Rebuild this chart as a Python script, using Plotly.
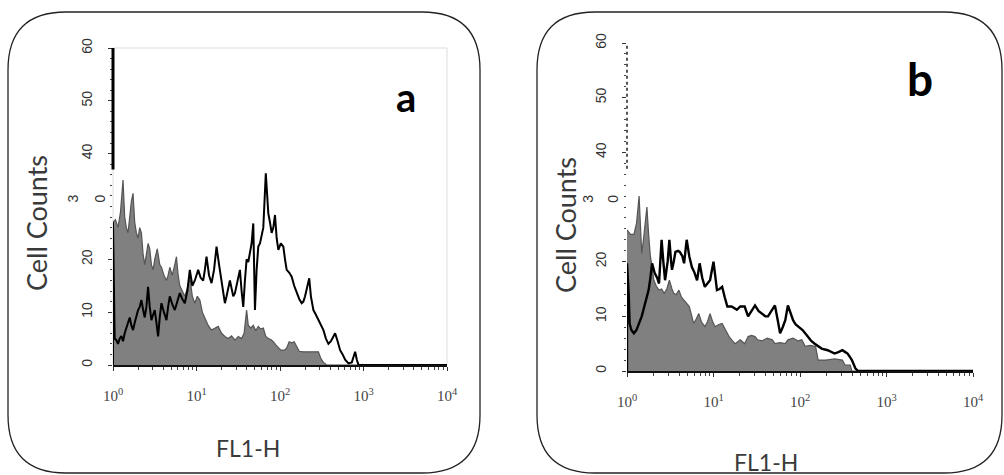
import plotly.graph_objects as go

W, H = 1004, 475

# ---------------- data (x in decades of FL1-H, y = cell counts) ----------------
A_CTRL_DEC = [0.00, 0.03, 0.06, 0.09, 0.12, 0.14, 0.16, 0.18, 0.20, 0.22, 0.24, 0.26, 0.28, 0.30, 0.32,
              0.34, 0.36, 0.38, 0.40, 0.42, 0.44, 0.46, 0.48, 0.50, 0.53, 0.56, 0.58, 0.61, 0.64, 0.66,
              0.68, 0.71, 0.74, 0.76, 0.78, 0.80, 0.83, 0.86, 0.89, 0.92, 0.95, 0.98, 1.01, 1.04, 1.07,
              1.10, 1.14, 1.18, 1.22, 1.26, 1.30, 1.34, 1.38, 1.42, 1.46, 1.50, 1.54, 1.57, 1.60, 1.62,
              1.65, 1.68, 1.71, 1.74, 1.77, 1.80, 1.83, 1.86, 1.89, 1.92, 1.95, 1.98, 2.01, 2.05, 2.08,
              2.11, 2.14, 2.17, 2.20, 2.23, 2.28, 2.34, 2.40, 2.46, 2.49, 2.52, 2.56, 4.00]
A_CTRL_CNT = [27, 27.5, 26, 29, 35, 28, 26, 25, 28, 31, 32.5, 27, 25, 24, 26,
              25, 21, 19, 21, 23, 22, 19, 18, 20, 22, 19, 18.5, 17, 16, 17,
              18.5, 17, 19, 20.5, 17, 15, 14, 13, 14.5, 16.7, 13, 11.7, 13, 12.3, 10,
              9, 7.5, 6.6, 7, 7.3, 6, 5.4, 5, 5.5, 4.7, 5.4, 5, 6, 10.4, 7.5,
              7, 7.5, 6.5, 7.3, 6.8, 7, 5.4, 5, 4.8, 4.4, 3.8, 3.2, 2.8, 2.8, 3.2,
              4.4, 4.2, 4.4, 3.5, 2.6, 2.5, 2.5, 2.5, 2.5, 1.2, 0.5, 0, 0]

A_TRT_DEC = [0.00, 0.00, 0.02, 0.04, 0.06, 0.08, 0.10, 0.12, 0.14, 0.16, 0.18, 0.20, 0.22, 0.24, 0.26,
             0.28, 0.30, 0.32, 0.34, 0.36, 0.38, 0.40, 0.42, 0.44, 0.46, 0.48, 0.50, 0.52, 0.54, 0.56,
             0.58, 0.61, 0.64, 0.66, 0.68, 0.71, 0.74, 0.77, 0.80, 0.83, 0.86, 0.89, 0.92, 0.95, 0.98,
             1.00, 1.02, 1.05, 1.08, 1.10, 1.12, 1.15, 1.18, 1.21, 1.24, 1.27, 1.30, 1.32, 1.34, 1.36,
             1.38, 1.40, 1.42, 1.44, 1.46, 1.48, 1.50, 1.52, 1.54, 1.56, 1.58, 1.60, 1.62, 1.64, 1.66,
             1.68, 1.70, 1.72, 1.74, 1.76, 1.78, 1.80, 1.83, 1.85, 1.86, 1.88, 1.90, 1.92, 1.94, 1.96,
             1.98, 2.01, 2.04, 2.06, 2.08, 2.11, 2.14, 2.17, 2.20, 2.23, 2.26, 2.28, 2.30, 2.33, 2.35,
             2.37, 2.40, 2.43, 2.46, 2.49, 2.52, 2.55, 2.58, 2.61, 2.64, 2.66, 2.69, 2.72, 2.75, 2.78,
             2.82, 2.86, 2.88, 2.90, 2.92, 2.94, 4.00]
A_TRT_CNT = [0, 27, 5, 4.7, 4, 5, 5.5, 4.5, 6, 7, 8, 9, 7.5, 6.6, 8,
             9.5, 10.4, 11, 12.3, 10.5, 9, 11, 14.8, 11, 8.5, 9.5, 10.4, 8, 5.4, 9,
             11.7, 10, 8.5, 11, 13, 11.5, 10.4, 12, 13.6, 12.5, 11.7, 14, 18, 15, 16,
             17, 18, 16.5, 16, 18, 20.5, 17, 15.5, 18, 22.4, 19, 16, 14, 11.7, 13,
             14.8, 16, 14.5, 13, 13.6, 15, 16.5, 18, 14, 11, 16, 20, 19.5, 21, 23,
             26.8, 10.4, 18, 22.4, 23, 24.3, 26, 36.3, 30, 28.7, 27, 25, 26, 28.4, 24,
             21.8, 23, 22.4, 20, 18, 17.5, 16.7, 15, 13.6, 12.5, 11.7, 12, 13, 15, 16.4,
             13, 10.4, 9.5, 8.5, 7.5, 6.6, 5, 4, 4.5, 5.5, 6, 4.5, 2.8, 2, 1,
             0.3, 0.5, 1.5, 2.5, 1, 0, 0]

B_CTRL_DEC = [0.00, 0.04, 0.08, 0.11, 0.14, 0.16, 0.17, 0.19, 0.21, 0.23, 0.25, 0.27, 0.29, 0.31, 0.34,
              0.37, 0.40, 0.43, 0.46, 0.49, 0.52, 0.54, 0.57, 0.60, 0.63, 0.66, 0.69, 0.72, 0.75, 0.77,
              0.80, 0.83, 0.86, 0.90, 0.93, 0.96, 0.99, 1.02, 1.06, 1.10, 1.14, 1.18, 1.22, 1.25, 1.31,
              1.36, 1.40, 1.44, 1.48, 1.51, 1.56, 1.62, 1.68, 1.71, 1.77, 1.83, 1.86, 1.92, 1.98, 2.02,
              2.06, 2.12, 2.18, 2.21, 2.30, 2.40, 2.49, 2.52, 2.58, 2.60, 4.00]
B_CTRL_CNT = [25.8, 25, 25, 27, 32, 24, 21.5, 24, 27, 30, 25, 21, 19, 16.6, 15.5,
              14.8, 15, 14.2, 15, 16.6, 15, 14.2, 14, 14.8, 13.5, 13, 12.5, 11.8, 10, 8.7,
              9.5, 10.5, 9, 8.1, 9, 10.5, 9, 8.1, 8.5, 8.7, 7.5, 6.3, 5.5, 5, 5.7,
              5, 6.3, 6.5, 6.3, 5.7, 5.5, 6, 5.7, 5, 5.2, 5, 5.7, 6, 5.5, 5.7,
              4.5, 4.7, 4.5, 2, 2, 2.2, 2, 1.1, 1.1, 0, 0]

B_TRT_DEC = [0.00, 0.00, 0.02, 0.03, 0.05, 0.08, 0.11, 0.14, 0.17, 0.20, 0.23, 0.25, 0.27, 0.29, 0.32,
             0.35, 0.37, 0.40, 0.42, 0.44, 0.47, 0.49, 0.51, 0.52, 0.54, 0.56, 0.59, 0.61, 0.64, 0.66,
             0.69, 0.72, 0.75, 0.78, 0.81, 0.84, 0.87, 0.90, 0.93, 0.96, 1.00, 1.02, 1.04, 1.07, 1.10,
             1.13, 1.16, 1.21, 1.27, 1.31, 1.36, 1.40, 1.44, 1.48, 1.52, 1.56, 1.60, 1.63, 1.67, 1.71,
             1.74, 1.77, 1.80, 1.83, 1.86, 1.89, 1.92, 1.95, 1.98, 2.03, 2.09, 2.13, 2.17, 2.21, 2.25,
             2.32, 2.36, 2.40, 2.45, 2.49, 2.52, 2.55, 2.58, 2.60, 2.64, 2.67, 4.00]
B_TRT_CNT = [0, 19.7, 14, 8.7, 7.5, 6.9, 7.5, 8.7, 10, 11.8, 13.5, 14.8, 17, 19.7, 17.9,
             17, 16, 24, 20, 16.6, 20, 24, 20, 18.5, 20, 21.8, 22, 21.8, 21, 19.7,
             24, 21, 19, 18, 16.6, 19.7, 17, 15.4, 16, 16.6, 20, 17, 14.8, 15, 15.4,
             13.5, 11.8, 11.8, 11.2, 11.8, 11.8, 10, 11, 12, 11, 10.5, 10, 10, 11, 12,
             9.5, 6.9, 8, 9.3, 12, 10.5, 9.3, 8.5, 8.1, 7.5, 6.3, 5.5, 5, 4.5, 4.1,
             3.8, 3.5, 3.2, 3.5, 3.8, 3.5, 3.2, 2.5, 2, 0.5, 0, 0]

X_TICK_DEC = [0, 1, 2, 3, 4]
X_TICK_TEXT = ["10<sup>0</sup>", "10<sup>1</sup>", "10<sup>2</sup>", "10<sup>3</sup>", "10<sup>4</sup>"]
Y_TICK_VALS = [0, 10, 20, 40, 50, 60]
Y_TICK_TEXT = ["0", "10", "20", "40", "50", "60"]
PANEL_LETTERS = ["a", "b"]
X_TITLE = "FL1-H"
Y_TITLE = "Cell Counts"

def lin(decs):
    return [10 ** d for d in decs]

def px(x, y):
    return x / W, 1 - y / H

GRAY_FILL = "#808080"
GRAY_EDGE = "#555555"

fig = go.Figure()
fig.add_trace(go.Scatter(x=lin(A_CTRL_DEC), y=A_CTRL_CNT, mode="lines", fill="tozeroy",
                         fillcolor=GRAY_FILL, line=dict(color=GRAY_EDGE, width=1.2),
                         xaxis="x", yaxis="y", showlegend=False))
fig.add_trace(go.Scatter(x=lin(A_TRT_DEC), y=A_TRT_CNT, mode="lines",
                         line=dict(color="#000000", width=2), xaxis="x", yaxis="y", showlegend=False))
fig.add_trace(go.Scatter(x=lin(B_CTRL_DEC), y=B_CTRL_CNT, mode="lines", fill="tozeroy",
                         fillcolor=GRAY_FILL, line=dict(color=GRAY_EDGE, width=1.2),
                         xaxis="x2", yaxis="y2", showlegend=False))
fig.add_trace(go.Scatter(x=lin(B_TRT_DEC), y=B_TRT_CNT, mode="lines",
                         line=dict(color="#000000", width=2.4), xaxis="x2", yaxis="y2", showlegend=False))

tick_font_x = dict(family="Liberation Serif", size=15, color="#444444")
tick_font_y = dict(family="Liberation Sans", size=14, color="#333333")

def xax(domain, anchor):
    return dict(domain=domain, anchor=anchor, type="log", range=[0, 4], automargin=False,
                tickvals=[10 ** d for d in X_TICK_DEC], ticktext=X_TICK_TEXT,
                tickfont=tick_font_x, ticks="outside", ticklen=4, tickwidth=1, tickcolor="#333",
                ticklabelstandoff=12,
                minor=dict(ticks="outside", ticklen=3, tickcolor="#444", dtick="D1"),
                showline=True, linecolor="#111", linewidth=2,
                showgrid=False, zeroline=False, fixedrange=True)

def yax(domain, anchor):
    return dict(domain=domain, anchor=anchor, range=[0, 60], automargin=False,
                tickvals=Y_TICK_VALS, ticktext=Y_TICK_TEXT, tickangle=-90,
                tickfont=tick_font_y, ticks="outside", ticklen=4, tickcolor="#333",
                ticklabelstandoff=10,
                minor=dict(ticks="outside", ticklen=2, tickcolor="#444", dtick=2),
                showline=False, showgrid=False, zeroline=False, fixedrange=True)

ax_a = px(113, 365), px(447, 48)
ax_b = px(627, 371), px(973, 43)

fig.update_layout(
    width=W, height=H, autosize=False,
    margin=dict(l=0, r=0, t=0, b=0, pad=0, autoexpand=False),
    paper_bgcolor="white", plot_bgcolor="white",
    xaxis=xax([ax_a[0][0], ax_a[1][0]], "y"),
    yaxis=yax([ax_a[0][1], ax_a[1][1]], "x"),
    xaxis2=xax([ax_b[0][0], ax_b[1][0]], "y2"),
    yaxis2=yax([ax_b[0][1], ax_b[1][1]], "x2"),
)

def rounded_rect(x0, y0, x1, y1, r):
    def P(x, y):
        fx, fy = px(x, y)
        return f"{fx:.5f},{fy:.5f}"
    path = (f"M {P(x0 + r, y0)} L {P(x1 - r, y0)} Q {P(x1, y0)} {P(x1, y0 + r)} "
            f"L {P(x1, y1 - r)} Q {P(x1, y1)} {P(x1 - r, y1)} "
            f"L {P(x0 + r, y1)} Q {P(x0, y1)} {P(x0, y1 - r)} "
            f"L {P(x0, y0 + r)} Q {P(x0, y0)} {P(x0 + r, y0)} Z")
    return dict(type="path", xref="paper", yref="paper", path=path,
                line=dict(color="#222", width=1.3), layer="below")

shapes = [
    rounded_rect(8, 12, 480, 473, 58),
    rounded_rect(537, 12, 1002, 473, 58),
    dict(type="rect", xref="x domain", yref="y domain", x0=0, x1=1, y0=0, y1=1,
         line=dict(color="#dddddd", width=1), layer="below"),
    dict(type="line", xref="x domain", yref="y", x0=0, x1=0, y0=37, y1=60,
         line=dict(color="#000", width=3)),
    dict(type="line", xref="x2 domain", yref="y2", x0=0, x1=0, y0=37, y1=60,
         line=dict(color="#555", width=2, dash="dot")),
]

ann = []
for (cx, cy) in [(37, 223), (566, 225)]:
    fx, fy = px(cx, cy)
    ann.append(dict(text=Y_TITLE, x=fx, y=fy, xref="paper", yref="paper", showarrow=False,
                    textangle=-90, font=dict(family="Lato", size=27, color="#3a3a3a"),
                    xanchor="center", yanchor="middle"))
for (cx, cy) in [(248, 448), (766, 462)]:
    fx, fy = px(cx, cy)
    ann.append(dict(text=X_TITLE, x=fx, y=fy, xref="paper", yref="paper", showarrow=False,
                    font=dict(family="Lato", size=23, color="#3a3a3a"),
                    xanchor="center", yanchor="middle"))
for letter, (cx, cy), size in zip(PANEL_LETTERS, [(406, 97), (920, 78)], [40, 46]):
    fx, fy = px(cx, cy)
    ann.append(dict(text=f"<b>{letter}</b>", x=fx, y=fy, xref="paper", yref="paper", showarrow=False,
                    font=dict(family="Lato", size=size, color="#000"), xanchor="center", yanchor="middle"))
# split "30" tick label as printed in the figure
for (x3, x0), yr in [((73, 100), "y"), ((588, 613), "y2")]:
    for txt, cx in zip(["3", "0"], (x3, x0)):
        ann.append(dict(text=txt, x=cx / W, y=31.5, xref="paper", yref=yr, showarrow=False,
                        xanchor="center", yanchor="middle", textangle=-90, font=tick_font_y))

fig.update_layout(shapes=shapes, annotations=ann)
fig.write_html("out.html", config={"responsive": False, "displayModeBar": False},
               post_script="document.body.style.margin='0';document.body.style.padding='0';")
